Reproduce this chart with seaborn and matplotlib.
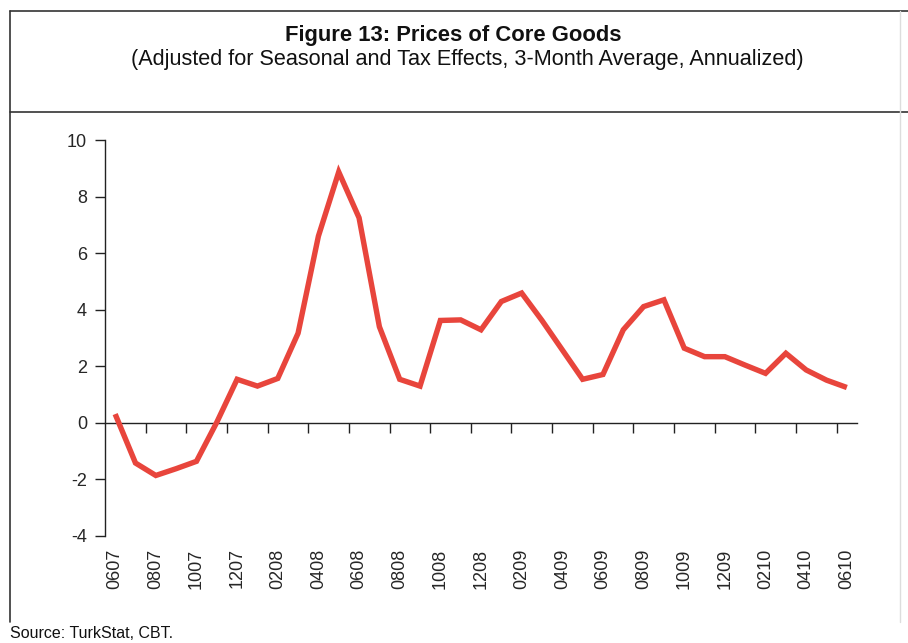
import matplotlib
matplotlib.use("Agg")

import matplotlib.pyplot as plt
from matplotlib.lines import Line2D
import numpy as np
import pandas as pd
import seaborn as sns

# ---------------------------------------------------------------
# Data: monthly, June 2007 .. June 2010 (MMYY labels)
# ---------------------------------------------------------------
months = [
    "0607", "0707", "0807", "0907", "1007", "1107", "1207",
    "0108", "0208", "0308", "0408", "0508", "0608", "0708", "0808", "0908",
    "1008", "1108", "1208",
    "0109", "0209", "0309", "0409", "0509", "0609", "0709", "0809", "0909",
    "1009", "1109", "1209",
    "0110", "0210", "0310", "0410", "0510", "0610",
]
core_goods = [
    0.31, -1.42, -1.86, -1.62, -1.36, 0.02, 1.54,
    1.30, 1.57, 3.17, 6.60, 8.87, 7.25, 3.40, 1.54, 1.30,
    3.62, 3.64, 3.29,
    4.29, 4.59, 3.62, 2.58, 1.54, 1.71, 3.29, 4.11, 4.35,
    2.64, 2.34, 2.34,
    2.04, 1.75, 2.46, 1.87, 1.51, 1.25,
]
y_ticks = [-4, -2, 0, 2, 4, 6, 8, 10]

LINE_COLOR = "#E8453C"

sns.set_style("white")
plt.rcParams["font.family"] = ["Liberation Sans", "DejaVu Sans"]

df = pd.DataFrame({"idx": np.arange(len(months)), "value": core_goods})

fig = plt.figure(figsize=(9.08, 6.43), dpi=100)
ax = fig.add_axes([105 / 908, 1 - 536 / 643, (857 - 105) / 908, (536 - 140) / 643])

sns.lineplot(data=df, x="idx", y="value", ax=ax, color=LINE_COLOR,
             linewidth=3.9, solid_joinstyle="miter", solid_capstyle="butt")

ax.set_xlim(-0.5, len(months) - 0.5)
ax.set_ylim(-4, 10)
ax.set_yticks(y_ticks)
ax.set_yticklabels([str(v) for v in y_ticks], fontsize=13)
ax.tick_params(axis="y", direction="out", length=7, width=1, color="#222222",
               pad=6, left=True)

# category labels every second month along the bottom
label_pos = list(range(0, len(months), 2))
ax.set_xticks(label_pos)
ax.set_xticklabels([months[i] for i in label_pos], rotation=90, fontsize=13)
ax.tick_params(axis="x", length=0, pad=9)
ax.set_xlabel("")
ax.set_ylabel("")

for side in ["top", "right", "bottom"]:
    ax.spines[side].set_visible(False)
ax.spines["left"].set_color("#222222")
ax.spines["left"].set_linewidth(1)

# horizontal axis line crossing at zero with tick marks between categories
zero_frac = (0 - (-4)) / (10 - (-4))
sec = ax.secondary_xaxis(zero_frac)
sec.set_xticks([i + 1.5 for i in range(0, len(months) - 2, 2)])
sec.set_xticklabels([])
sec.xaxis.set_ticks_position("bottom")
sec.tick_params(axis="x", direction="out", length=7, width=1, color="#222222")
sec.spines["bottom"].set_color("#222222")
sec.spines["bottom"].set_linewidth(1)
sec.spines["top"].set_visible(False)

# header and frame
fig.text(453 / 908, 1 - 36 / 643, "Figure 13: Prices of Core Goods",
         ha="center", va="center", fontsize=15.8, fontweight="bold", color="#111111")
fig.text(467 / 908, 1 - 60 / 643,
         "(Adjusted for Seasonal and Tax Effects, 3-Month Average, Annualized)",
         ha="center", va="center", fontsize=15.6, color="#111111")
fig.text(10 / 908, 1 - 634 / 643, "Source: TurkStat, CBT.",
         ha="left", va="center", fontsize=11.5, color="#111111")

frame_color = "#333333"
fig.add_artist(Line2D([10 / 908, 1], [1 - 11 / 643, 1 - 11 / 643],
                      color=frame_color, linewidth=1.2))
fig.add_artist(Line2D([10 / 908, 1], [1 - 112 / 643, 1 - 112 / 643],
                      color=frame_color, linewidth=1.2))
fig.add_artist(Line2D([10 / 908, 10 / 908], [1 - 11 / 643, 1 - 622 / 643],
                      color=frame_color, linewidth=1.2))
fig.add_artist(Line2D([900 / 908, 900 / 908], [1 - 11 / 643, 1 - 622 / 643],
                      color="#dddddd", linewidth=1.0))

fig.savefig("out.png", dpi=100, facecolor="white")
